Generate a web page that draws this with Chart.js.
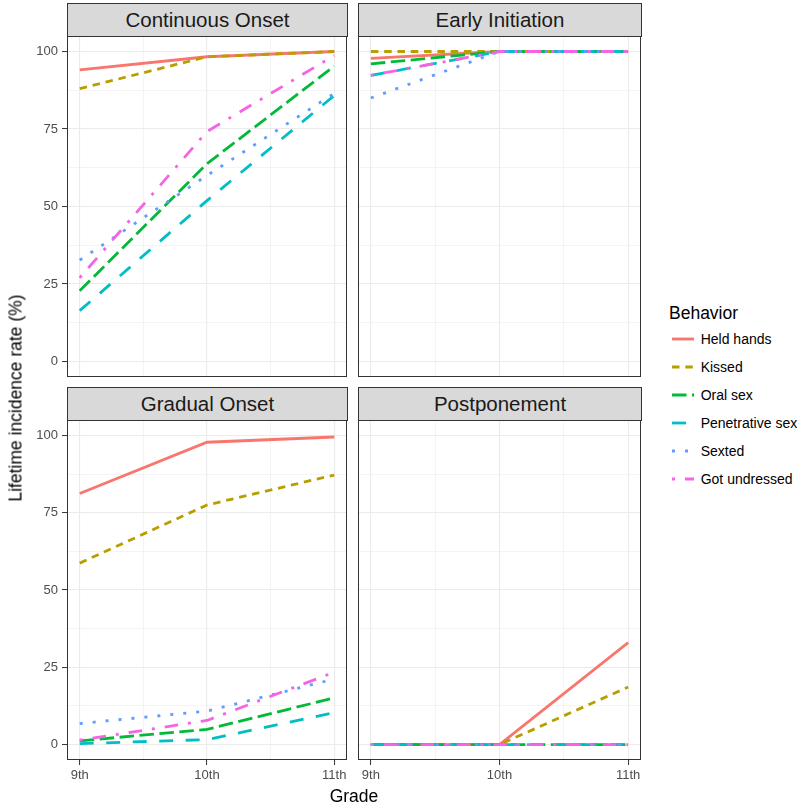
<!DOCTYPE html>
<html>
<head>
<meta charset="utf-8">
<script src="https://cdn.jsdelivr.net/npm/chart.js@4.4.1/dist/chart.umd.min.js"></script>
<style>
  body { margin: 0; background: #fff; font-family: "Liberation Sans", Arial, sans-serif; }
  #wrap { position: relative; width: 800px; height: 807px; }
  canvas { position: absolute; }
  .strip {
    position: absolute; box-sizing: border-box; background: #d9d9d9; border: 1px solid #333;
    text-align: center; color: #1a1a1a; font-size: 20.5px; line-height: 32px; height: 34px;
  }
  .axis-title { position: absolute; color: #000; font-size: 17.5px; white-space: nowrap; }
  #legend { position: absolute; left: 669px; top: 302.7px; color: #000; }
  #legend .title { font-size: 17.5px; line-height: 20px; height: 20px; margin-bottom: 2.6px; }
  #legend .item { height: 28px; display: flex; align-items: center; font-size: 14px; }
  #legend svg { margin: 0 6.7px 0 2.7px; }
</style>
</head>
<body>
<div id="wrap">
  <div class="strip" style="left:67px; top:3px; width:281px;">Continuous Onset</div>
  <div class="strip" style="left:358px; top:3px; width:284px;">Early Initiation</div>
  <div class="strip" style="left:67px; top:387px; width:281px;">Gradual Onset</div>
  <div class="strip" style="left:358px; top:387px; width:284px;">Postponement</div>

  <canvas id="c1" width="352" height="352" style="left:0; top:30px;"></canvas>
  <canvas id="c2" width="293" height="352" style="left:353px; top:30px;"></canvas>
  <canvas id="c3" width="352" height="393" style="left:0; top:414px;"></canvas>
  <canvas id="c4" width="293" height="393" style="left:353px; top:414px;"></canvas>

  <div class="axis-title" style="left:16px; top:398px; transform: translate(-50%, -50%) rotate(-90deg);">Lifetime incidence rate (%)</div>
  <div class="axis-title" style="left:354px; top:796px; transform: translate(-50%, -50%);">Grade</div>
  <div id="legend"><div class="title">Behavior</div></div>
</div>
<script>
const grades = [9, 10, 11];
const gradeLabels = ['9th', '10th', '11th'];
const behaviors = ['Held hands', 'Kissed', 'Oral sex', 'Penetrative sex', 'Sexted', 'Got undressed'];

// one row per behavior, values for 9th / 10th / 11th grade
const continuousOnset = [
  [94.1, 98.3, 100],
  [88.0, 98.3, 100],
  [22.8, 63.8, 95.3],
  [16.4, 51.9, 85.8],
  [32.7, 60.0, 86.5],
  [27.0, 74.2, 98.7]
];
const earlyInitiation = [
  [97.8, 100, 100],
  [100, 100, 100],
  [96.0, 100, 100],
  [92.3, 100, 100],
  [85.0, 100, 100],
  [92.3, 100, 100]
];
const gradualOnset = [
  [81.2, 97.8, 99.5],
  [58.7, 77.5, 87.2],
  [1.2, 4.9, 15.1],
  [0.3, 1.6, 10.3],
  [6.8, 10.8, 21.2],
  [1.4, 7.8, 23.4]
];
const postponement = [
  [0, 0, 33.0],
  [0, 0, 18.6],
  [0, 0, 0],
  [0, 0, 0],
  [0, 0, 0],
  [0, 0, 0]
];

const yTicks = [0, 25, 50, 75, 100];
const colors = ['#F8766D', '#B79F00', '#00BA38', '#00BFC4', '#619CFF', '#F564E3'];
const dashes = [[], [7.5, 5.8], [14.5, 5.5], [14, 12.5], [3, 10], [3, 10, 13.5, 10]];

const panelBorder = {
  id: 'panelBorder',
  afterDraw(chart) {
    const a = chart.chartArea, c = chart.ctx;
    c.save();
    c.strokeStyle = '#333';
    c.lineWidth = 1;
    c.strokeRect(Math.round(a.left) + 0.5, Math.round(a.top) + 0.5,
                 Math.round(a.right - a.left) - 1, Math.round(a.bottom - a.top) - 1);
    c.restore();
  }
};

function makeChart(id, rows, showY, showX) {
  const datasets = rows.map((vals, i) => ({
    label: behaviors[i],
    data: vals.map((v, j) => ({ x: grades[j], y: v })),
    borderColor: colors[i],
    borderDash: dashes[i],
    borderWidth: 2.8,
    borderCapStyle: 'butt',
    pointRadius: 0,
    tension: 0,
    fill: false,
    order: rows.length - i
  }));

  const isMajorY = v => v % 25 === 0;
  const isMajorX = v => Number.isInteger(v);

  return new Chart(document.getElementById(id), {
    type: 'line',
    data: { datasets },
    plugins: [panelBorder],
    options: {
      responsive: false,
      animation: false,
      events: [],
      layout: { padding: { left: showY ? 0 : 5, right: 5, top: 6, bottom: showX ? 0 : 5 } },
      plugins: { legend: { display: false }, tooltip: { enabled: false } },
      scales: {
        x: {
          type: 'linear',
          min: 8.9,
          max: 11.1,
          afterBuildTicks: s => { s.ticks = [9, 9.5, 10, 10.5, 11].map(v => ({ value: v })); },
          afterFit: s => { s.height = showX ? 47 : 0; s.paddingLeft = 0; s.paddingRight = 0; },
          border: { display: false },
          grid: {
            color: '#ebebeb',
            lineWidth: c => isMajorX(c.tick.value) ? 1.1 : 0.55,
            drawTicks: showX,
            tickLength: 5,
            tickColor: c => isMajorX(c.tick.value) ? '#333' : 'rgba(0,0,0,0)',
            tickWidth: 1
          },
          ticks: {
            display: showX,
            autoSkip: false,
            maxRotation: 0,
            padding: 3,
            color: '#4d4d4d',
            font: { family: 'Liberation Sans', size: 13 },
            callback: v => gradeLabels[grades.indexOf(v)] || ''
          }
        },
        y: {
          min: -5,
          max: 105,
          afterBuildTicks: s => {
            const t = [];
            for (let k = 0; k < yTicks.length; k++) {
              t.push({ value: yTicks[k] });
              if (k < yTicks.length - 1) t.push({ value: (yTicks[k] + yTicks[k + 1]) / 2 });
            }
            s.ticks = t;
          },
          afterFit: s => { s.width = showY ? 67 : 0; s.paddingTop = 0; s.paddingBottom = 0; },
          border: { display: false },
          grid: {
            color: '#ebebeb',
            lineWidth: c => isMajorY(c.tick.value) ? 1.1 : 0.55,
            drawTicks: showY,
            tickLength: 5,
            tickColor: c => isMajorY(c.tick.value) ? '#333' : 'rgba(0,0,0,0)',
            tickWidth: 1
          },
          ticks: {
            display: showY,
            autoSkip: false,
            padding: 4,
            color: '#4d4d4d',
            font: { family: 'Liberation Sans', size: 13 },
            callback: v => isMajorY(v) ? String(v) : ''
          }
        }
      }
    }
  });
}

makeChart('c1', continuousOnset, true, false);
makeChart('c2', earlyInitiation, false, false);
makeChart('c3', gradualOnset, true, true);
makeChart('c4', postponement, false, true);

// legend
const legend = document.getElementById('legend');
behaviors.forEach((b, i) => {
  const item = document.createElement('div');
  item.className = 'item';
  item.innerHTML = '<svg width="22.3" height="6"><line x1="0" y1="3" x2="22.3" y2="3" stroke="' + colors[i] +
    '" stroke-width="2.8" stroke-dasharray="' + (dashes[i].length ? dashes[i].join(' ') : 'none') +
    '"/></svg><span>' + b + '</span>';
  legend.appendChild(item);
});
</script>
</body>
</html>
